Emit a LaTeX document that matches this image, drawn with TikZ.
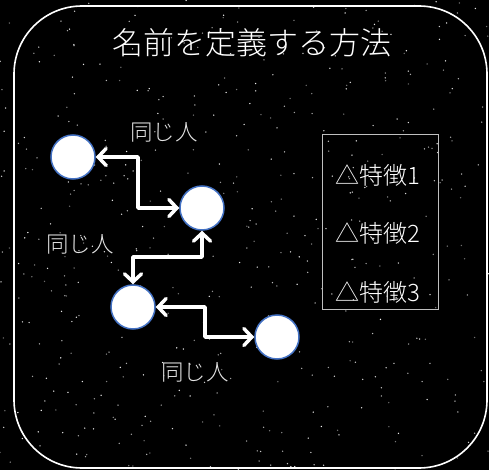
\documentclass[tikz,border=0pt]{standalone}
\usepackage{fontspec}
\newfontfamily\cjk{Noto Sans CJK JP}[UprightFont={* Light}]
\usetikzlibrary{arrows.meta}
\definecolor{ringblue}{HTML}{4472C4}
\tikzset{
  person/.style={circle, fill=white, draw=ringblue, line width=1.5pt, minimum size=44pt, inner sep=0pt},
  arr/.style={draw=white, line width=3.5pt, line join=round,
    {Straight Barb[length=8pt,width=17pt,line cap=round]}-{Straight Barb[length=8pt,width=17pt,line cap=round]}},
  lbl/.style={text=white!90!black, font=\cjk\fontsize{22.5}{22.5}\selectfont, inner sep=0pt},
  feat/.style={text=white, font=\cjk\fontsize{24}{24}\selectfont, inner sep=0pt},
}
\begin{document}
\begin{tikzpicture}[x=1pt,y=-1pt]
\useasboundingbox (0,0) rectangle (489,470);
\fill[black] (0,0) rectangle (489,470);
% star field
\pgfmathsetseed{7}
\foreach \i in {1,...,500}{
  \pgfmathsetmacro\sx{rnd*489}
  \pgfmathsetmacro\sy{rnd*470}
  \pgfmathsetmacro\so{0.4+0.6*rnd}
  \fill[white, opacity=\so] (\sx,\sy) circle (0.75pt);
}
\draw[white, line width=1.6pt, rounded corners=68pt] (14,6) rectangle (487,468);
\node[text=white, font=\cjk\fontsize{31}{31}\selectfont, inner sep=0pt] (title) at (252,43) {名前を定義する方法};

\node[person] (A) at (73,157) {};
\node[person] (B) at (202,208) {};
\node[person] (C) at (133,307) {};
\node[person] (D) at (277,337) {};

\coordinate (m1) at (138,0);
\coordinate (m2) at (0,257);
\coordinate (m3) at (205,0);
\draw[arr] (A.east) -- (A.east -| m1) -- (B.west -| m1) -- (B.west);
\draw[arr] (B.south) -- (B.south |- m2) -- (C.north |- m2) -- (C.north);
\draw[arr] (C.east) -- (C.east -| m3) -- (D.west -| m3) -- (D.west);

\node[lbl] (l1) at (164,132) {同じ人};
\node[lbl] (l2) at (80,244) {同じ人};
\node[lbl] (l3) at (195,372) {同じ人};

\draw[white!75!black, line width=0.8pt] (322,134) rectangle (438,309);
\node[feat] (f1) at (378,175) {△特徴1};
\node[feat] (f2) at (378,233) {△特徴2};
\node[feat] (f3) at (378,292) {△特徴3};
\end{tikzpicture}
\end{document}
